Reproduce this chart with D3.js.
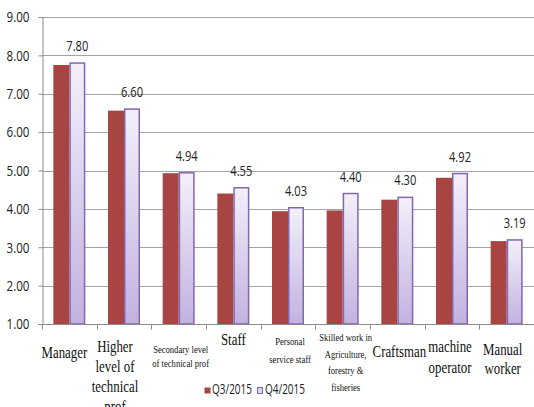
<!DOCTYPE html>
<html>
<head>
  <meta charset="utf-8">
  <script src="https://d3js.org/d3.v7.min.js"></script>
  <style>
    body { margin: 0; background: #fff; }
    svg { display: block; }
  </style>
</head>
<body>
  <div id="chart"></div>
  <script>
    // categories (label lines as shown under the axis)
    var categories = ["Manager", "Higher level of technical prof", "Secondary level of technical prof",
      "Staff", "Personal service staff", "Skilled work in Agriculture, forestry & fisheries",
      "Craftsman", "machine operator", "Manual worker"];
    var labelLines = [
      ["Manager"],
      ["Higher", "level of", "technical", "prof"],
      ["Secondary level", "of technical prof"],
      ["Staff"],
      ["Personal", "service staff"],
      ["Skilled work in", "Agriculture,", "forestry &", "fisheries"],
      ["Craftsman"],
      ["machine", "operator"],
      ["Manual", "worker"]
    ];
    var seriesNames = ["Q3/2015", "Q4/2015"];
    var q3 = [7.75, 6.56, 4.93, 4.40, 3.94, 3.96, 4.24, 4.81, 3.16];
    var q4 = [7.80, 6.60, 4.94, 4.55, 4.03, 4.40, 4.30, 4.92, 3.19];
    var yTicks = [1, 2, 3, 4, 5, 6, 7, 8, 9];

    // label styling per category: text size, first baseline, line height, shift
    var labelStyle = [
      { size: 16.5, base: 358, lh: 20, dx: -5 },
      { size: 16.5, base: 352, lh: 20, dx: -9 },
      { size: 11, base: 353, lh: 14, dx: 2 },
      { size: 16.5, base: 345, lh: 20, dx: 0 },
      { size: 11, base: 345, lh: 18, dx: 2 },
      { size: 11, base: 341, lh: 16.5, dx: 3 },
      { size: 16.5, base: 357, lh: 20, dx: 2 },
      { size: 16.5, base: 352, lh: 21, dx: -2 },
      { size: 16.5, base: 355, lh: 19, dx: -4 }
    ];

    var W = 534, H = 407;
    var plotL = 42, plotR = 534, plotT = 17, plotB = 324;

    var svg = d3.select("#chart").append("svg")
      .attr("width", W).attr("height", H);

    var defs = svg.append("defs");
    var grad = defs.append("linearGradient").attr("id", "purp")
      .attr("x1", 0).attr("y1", 0).attr("x2", 0).attr("y2", 1);
    grad.append("stop").attr("offset", "0%").attr("stop-color", "#f3f0fa");
    grad.append("stop").attr("offset", "100%").attr("stop-color", "#c3b1e0");

    var x = d3.scaleBand().domain(categories).range([plotL, plotR]);
    var x1 = d3.scaleBand().domain(seriesNames)
      .range([x.bandwidth() / 2 - 16, x.bandwidth() / 2 + 16]);
    var y = d3.scaleLinear().domain([1, 9]).range([plotB, plotT]);

    // gridlines
    svg.append("g").selectAll("line").data(yTicks.slice(1)).enter().append("line")
      .attr("x1", plotL).attr("x2", plotR)
      .attr("y1", function (d) { return Math.round(y(d)) + 0.5; })
      .attr("y2", function (d) { return Math.round(y(d)) + 0.5; })
      .attr("stroke", "#a3a3a3").attr("stroke-width", 1.2);

    // y axis
    var yAxis = svg.append("g").attr("transform", "translate(" + (plotL + 0.5) + ",0)")
      .call(d3.axisLeft(y).tickValues(yTicks).tickFormat(d3.format(".2f")).tickSize(4).tickPadding(9));
    yAxis.select(".domain").attr("stroke", "#8c8c8c");
    yAxis.selectAll(".tick line").attr("stroke", "#8c8c8c");
    yAxis.selectAll("text")
      .style("font-family", "'Open Sans', sans-serif").style("font-size", "15px")
      .attr("fill", "#222")
      .attr("textLength", 23).attr("lengthAdjust", "spacingAndGlyphs");

    // bars
    var groups = svg.append("g").selectAll("g").data(categories).enter().append("g")
      .attr("transform", function (d) { return "translate(" + x(d) + ",0)"; });

    groups.append("rect")
      .attr("x", x1("Q3/2015"))
      .attr("width", x1.bandwidth())
      .attr("y", function (d, i) { return y(q3[i]); })
      .attr("height", function (d, i) { return y(1) - y(q3[i]); })
      .attr("fill", "#a84542");

    groups.append("rect")
      .attr("x", x1("Q4/2015") + 0.75)
      .attr("width", x1.bandwidth() - 1.5)
      .attr("y", function (d, i) { return y(q4[i]); })
      .attr("height", function (d, i) { return y(1) - y(q4[i]); })
      .attr("fill", "url(#purp)")
      .attr("stroke", "#8266b0").attr("stroke-width", 1.5);

    // value labels above Q4 bars
    groups.append("text")
      .attr("x", x1("Q4/2015") + x1.bandwidth() / 2)
      .attr("y", function (d, i) { return y(q4[i]) - 12; })
      .attr("text-anchor", "middle")
      .style("font-family", "'Open Sans', sans-serif").style("font-size", "15px")
      .attr("fill", "#222")
      .attr("textLength", 22).attr("lengthAdjust", "spacingAndGlyphs")
      .text(function (d, i) { return q4[i].toFixed(2); });

    // x axis
    var xAxis = svg.append("g").attr("transform", "translate(0," + (plotB + 0.5) + ")");
    xAxis.append("line").attr("x1", plotL).attr("x2", plotR).attr("stroke", "#8c8c8c");
    xAxis.selectAll(".sep").data(d3.range(categories.length + 1)).enter().append("line")
      .attr("x1", function (i) { return Math.round(plotL + i * x.step()) + 0.5; })
      .attr("x2", function (i) { return Math.round(plotL + i * x.step()) + 0.5; })
      .attr("y1", 0).attr("y2", 5).attr("stroke", "#8c8c8c");

    // category labels
    categories.forEach(function (c, i) {
      var st = labelStyle[i];
      var cx = x(c) + x.bandwidth() / 2 + st.dx;
      labelLines[i].forEach(function (ln, j) {
        svg.append("text")
          .attr("transform", "translate(" + cx + "," + (st.base + j * st.lh) + ") scale(0.78,1)")
          .attr("text-anchor", "middle")
          .style("font-family", "'Liberation Serif', 'Times New Roman', serif")
          .style("font-size", st.size + "px")
          .attr("fill", "#111")
          .text(ln);
      });
    });

    // legend
    var legendX = [204, 257];
    var legend = svg.append("g").selectAll("g").data(seriesNames).enter().append("g")
      .attr("transform", function (d, i) { return "translate(" + legendX[i] + ",387)"; });
    legend.append("rect")
      .attr("width", function (d, i) { return i ? 5 : 6; }).attr("height", 6)
      .attr("x", 0.5).attr("y", 0.5)
      .attr("fill", function (d, i) { return i ? "#ddd2f0" : "#a84542"; })
      .attr("stroke", function (d, i) { return i ? "#8266b0" : "none"; });
    legend.append("text")
      .attr("x", 8).attr("y", 7)
      .style("font-family", "'Open Sans', sans-serif").style("font-size", "15px")
      .attr("fill", "#222")
      .attr("textLength", 40).attr("lengthAdjust", "spacingAndGlyphs")
      .text(function (d) { return d; });
  </script>
</body>
</html>
